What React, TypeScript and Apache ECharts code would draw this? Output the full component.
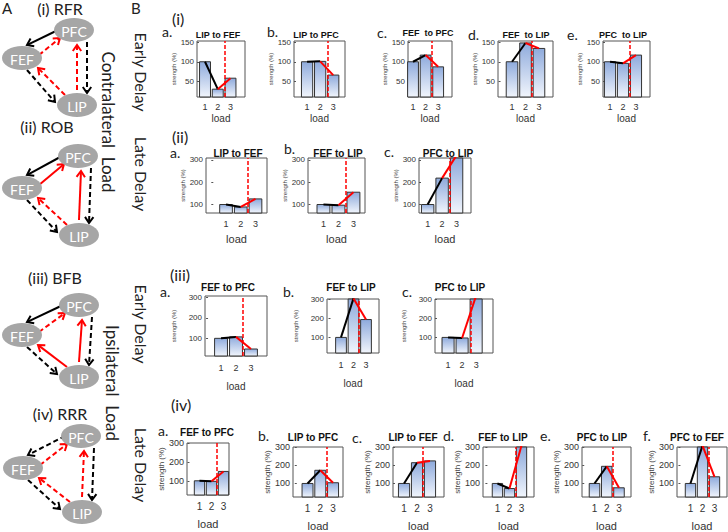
import React, { useEffect, useRef } from "react";
import * as echarts from "echarts";

// ---------- DATA ----------
const loads = [1, 2, 3];

// B (i) contralateral load, early delay
const earlyContraLIPtoFEF = [100, 30, 58];
const earlyContraLIPtoPFC = [100, 101, 66];
const earlyContraFEFtoPFC = [100, 117, 87];
const earlyContraFEFtoLIP = [100, 148, 134];
const earlyContraPFCtoLIP = [100, 96, 117];
// B (ii) contralateral load, late delay
const lateContraLIPtoFEF = [100, 89, 125];
const lateContraFEFtoLIP = [100, 97, 155];
const lateContraPFCtoLIP = [100, 218, 320];
// B (iii) ipsilateral load, early delay
const earlyIpsiFEFtoPFC = [100, 107, 48];
const earlyIpsiFEFtoLIP = [100, 305, 194];
const earlyIpsiPFCtoLIP = [100, 97, 320];
// B (iv) ipsilateral load, late delay
const lateIpsiFEFtoPFC = [100, 97, 150];
const lateIpsiLIPtoPFC = [100, 173, 104];
const lateIpsiLIPtoFEF = [100, 215, 225];
const lateIpsiFEFtoLIP = [100, 72, 310];
const lateIpsiPFCtoLIP = [100, 195, 76];
const lateIpsiPFCtoFEF = [100, 310, 137];

const ticksSmall = [50, 100, 150];
const ticksLarge = [100, 200, 300];

// ---------- LAYOUT ----------
const FONT = "'Liberation Sans', Arial, sans-serif";
const FONT_A = "Lato, 'Open Sans', sans-serif";

const rowStyles = [
  { titleY: 35, titleFs: 9, xTickFs: 9, yTickFs: 8, xMargin: 5, nameGap: 16, loadFs: 10, yNameGap: 19, yNameFs: 6 },
  { titleY: 153, titleFs: 10, xTickFs: 9, yTickFs: 8, xMargin: 6, nameGap: 20, loadFs: 11, yNameGap: 19, yNameFs: 6 },
  { titleY: 287, titleFs: 10, xTickFs: 9, yTickFs: 8, xMargin: 7, nameGap: 25, loadFs: 10, yNameGap: 28, yNameFs: 6 },
  { titleY: 437, titleFs: 10, xTickFs: 10, yTickFs: 9, xMargin: 6, nameGap: 23, loadFs: 11, yNameGap: 22, yNameFs: 8 },
];

const panels = [
  { row: 0, title: "LIP to FEF", letter: "a.", values: earlyContraLIPtoFEF, ticks: ticksSmall, box: [197, 41, 48, 56], xr: [0.37, 4.14], yr: [10, 153], dash: 2.57, tx: 218, lp: [162, 31] },
  { row: 0, title: "LIP to PFC", letter: "b.", values: earlyContraLIPtoPFC, ticks: ticksSmall, box: [294, 41, 51, 56], xr: [0.0, 3.9], yr: [10, 153], dash: 2.6, tx: 316, lp: [267, 31] },
  { row: 0, title: "FEF  to PFC", letter: "c.", values: earlyContraFEFtoPFC, ticks: ticksSmall, box: [408, 41, 44, 56], xr: [0.6, 4.1], yr: [10, 153], dash: 2.45, tx: 428, ty: 33, lp: [377, 32] },
  { row: 0, title: "FEF  to LIP", letter: "d.", values: earlyContraFEFtoLIP, ticks: ticksSmall, box: [498, 41, 55, 56], xr: [-0.04, 4.04], yr: [10, 153], dash: 2.5, tx: 526, lp: [468, 34] },
  { row: 0, title: "PFC  to LIP", letter: "e.", values: earlyContraPFCtoLIP, ticks: ticksSmall, box: [603, 41, 47, 56], xr: [0.46, 4.08], yr: [10, 153], dash: 2.5, tx: 623, lp: [567, 34] },

  { row: 1, title: "LIP to FEF", letter: "a.", values: lateContraLIPtoFEF, ticks: ticksLarge, box: [206, 158, 61, 55], xr: [-0.36, 3.78], yr: [62, 308], dash: 2.45, tx: 238, lp: [170, 152] },
  { row: 1, title: "FEF to LIP", letter: "b.", values: lateContraFEFtoLIP, ticks: ticksLarge, box: [308, 158, 57, 55], xr: [-0.03, 3.77], yr: [62, 308], dash: 2.5, tx: 338, lp: [284, 148] },
  { row: 1, title: "PFC to LIP", letter: "c.", values: lateContraPFCtoLIP, ticks: ticksLarge, box: [419, 158, 52, 55], xr: [0.4, 4.0], yr: [62, 308], dash: 2.5, tx: 448, lp: [384, 151] },

  { row: 2, title: "FEF to PFC", letter: "a.", values: earlyIpsiFEFtoPFC, ticks: ticksLarge, box: [205, 296, 62, 60], xr: [-0.07, 4.07], yr: [14, 306], dash: 2.45, tx: 228, lp: [160, 291] },
  { row: 2, title: "FEF to LIP", letter: "b.", values: earlyIpsiFEFtoLIP, ticks: ticksLarge, box: [327, 299, 52, 54], xr: [-0.12, 4.04], yr: [18, 302], dash: 2.4, tx: 351, lp: [283, 291] },
  { row: 2, title: "PFC to LIP", letter: "c.", values: earlyIpsiPFCtoLIP, ticks: ticksLarge, box: [435, 299, 58, 54], xr: [0.07, 4.2], yr: [18, 302], dash: 2.6, tx: 460, lp: [402, 291] },

  { row: 3, title: "FEF to PFC", letter: "a.", values: lateIpsiFEFtoPFC, ticks: ticksLarge, box: [187, 443, 42, 52], xr: [-0.04, 3.46], yr: [24, 302], dash: 2.4, tx: 207, ty: 432, lp: [158, 430] },
  { row: 3, title: "LIP to PFC", letter: "b.", values: lateIpsiLIPtoPFC, ticks: ticksLarge, box: [293, 447, 50, 50], xr: [-0.14, 3.78], yr: [25, 302], dash: 2.5, tx: 313, lp: [258, 435] },
  { row: 3, title: "LIP to FEF", letter: "c.", values: lateIpsiLIPtoFEF, ticks: ticksLarge, box: [393, 447, 51, 50], xr: [0.15, 4.08], yr: [25, 302], dash: 2.45, tx: 413, lp: [352, 437] },
  { row: 3, title: "FEF to LIP", letter: "d.", values: lateIpsiFEFtoLIP, ticks: ticksLarge, box: [483, 447, 51, 50], xr: [-0.2, 4.04], yr: [25, 302], dash: 2.5, tx: 503, lp: [443, 435] },
  { row: 3, title: "PFC to LIP", letter: "e.", values: lateIpsiPFCtoLIP, ticks: ticksLarge, box: [582, 447, 49, 50], xr: [-0.02, 3.98], yr: [25, 302], dash: 2.45, tx: 602, lp: [540, 435] },
  { row: 3, title: "PFC to FEF", letter: "f.", values: lateIpsiPFCtoFEF, ticks: ticksLarge, box: [677, 447, 50, 50], xr: [-0.12, 4.04], yr: [25, 302], dash: 2.5, tx: 697, lp: [643, 435] },
];

// Panel A network diagrams
const diagrams = [
  { label: "(i) RFR", lx: 60, ly: 8, nodes: { PFC: [74, 30], FEF: [22, 58], LIP: [77, 105] }, styles: ["k-", "r--", "k--", "r--", "k--", "r--"] },
  { label: "(ii) ROB", lx: 47, ly: 126, nodes: { PFC: [78, 156], FEF: [22, 188], LIP: [79, 235] }, styles: ["k-", "r-", "k--", "r-", "k--", "r--"] },
  { label: "(iii) BFB", lx: 55, ly: 277, nodes: { PFC: [79, 305], FEF: [22, 335], LIP: [79, 377] }, styles: ["k-", "r--", "k--", "r-", "k--", "r-"] },
  { label: "(iv) RRR", lx: 60, ly: 413, nodes: { PFC: [81, 436], FEF: [23, 468], LIP: [82, 512] }, styles: ["k--", "r--", "k--", "r--", "k--", "r--"] },
];
const arrowGeom = [
  { from: "PFC", fo: [-16, 0], to: "FEF", tof: [5, -13] },
  { from: "FEF", fo: [17, -3], to: "PFC", tof: [-14, 8] },
  { from: "PFC", fo: [13, 12], to: "LIP", tof: [10, -12] },
  { from: "LIP", fo: [0, -15], to: "PFC", tof: [3, 15] },
  { from: "FEF", fo: [5, 12], to: "LIP", tof: [-22, -3] },
  { from: "LIP", fo: [-12, -10], to: "FEF", tof: [16, 10] },
];

function arrowEls(s: number[], e: number[], color: string, dashed: boolean) {
  const dx = e[0] - s[0];
  const dy = e[1] - s[1];
  const len = Math.hypot(dx, dy);
  const ux = dx / len, uy = dy / len;
  const nx = -uy, ny = ux;
  const L = 6, W = 4.2;
  const lineStyle: any = { stroke: color, lineWidth: 2 };
  if (dashed) lineStyle.lineDash = [5, 3];
  return [
    { type: "line", shape: { x1: s[0], y1: s[1], x2: e[0] - ux, y2: e[1] - uy }, style: lineStyle, z: 5 },
    {
      type: "polyline",
      shape: { points: [[e[0] - ux * L + nx * W, e[1] - uy * L + ny * W], [e[0], e[1]], [e[0] - ux * L - nx * W, e[1] - uy * L - ny * W]] },
      style: { stroke: color, lineWidth: 2, fill: "none" },
      z: 5,
    },
  ];
}

function text(x: number, y: number, t: string, fs: number, opts: any = {}) {
  return {
    type: "text",
    x,
    y,
    rotation: opts.rotation || 0,
    z: 10,
    style: {
      text: t,
      fontSize: fs,
      fontFamily: opts.font || FONT_A,
      fontWeight: opts.weight || "normal",
      fill: opts.color || "#222",
      align: opts.align || "center",
      verticalAlign: "middle",
    },
  };
}

function buildOption() {
  const grid: any[] = [];
  const xAxis: any[] = [];
  const yAxis: any[] = [];
  const series: any[] = [];
  const graphic: any[] = [];

  panels.forEach((p: any, i) => {
    const rs = rowStyles[p.row];
    const [l, t, w, h] = p.box;
    const s = w / (p.xr[1] - p.xr[0]);
    const bw = s * 0.86;
    const ymin = p.yr[0], ymax = p.yr[1];
    grid.push({ left: l, top: t, width: w, height: h, show: true, borderColor: "#555", borderWidth: 1, backgroundColor: "#fff" });
    xAxis.push({
      type: "value", gridIndex: i, min: p.xr[0], max: p.xr[1],
      axisLine: { show: false }, splitLine: { show: false },
      axisTick: { show: true, inside: true, length: 2, customValues: loads, lineStyle: { color: "#555" } },
      axisLabel: { customValues: loads, fontSize: rs.xTickFs, color: "#333", margin: rs.xMargin, fontFamily: FONT },
      name: "load", nameLocation: "middle", nameGap: rs.nameGap,
      nameTextStyle: { fontSize: rs.loadFs, color: "#333", fontFamily: FONT },
    });
    yAxis.push({
      type: "value", gridIndex: i, min: ymin, max: ymax,
      axisLine: { show: false }, splitLine: { show: false },
      axisTick: { show: true, inside: true, length: 2, customValues: p.ticks, lineStyle: { color: "#555" } },
      axisLabel: { customValues: p.ticks, fontSize: rs.yTickFs, color: "#333", margin: 3, fontFamily: FONT },
      name: "strength (%)", nameLocation: "middle", nameGap: rs.yNameGap, nameRotate: 90,
      nameTextStyle: { fontSize: rs.yNameFs, color: "#444", fontFamily: FONT },
    });
    series.push({
      type: "custom", xAxisIndex: i, yAxisIndex: i, silent: true, z: 2,
      data: loads.map((x, k) => [x, p.values[k]]),
      encode: { x: 0, y: 1 },
      renderItem: (params: any, api: any) => {
        const x = api.value(0);
        const v = api.value(1);
        const top = api.coord([x, Math.min(v, ymax)]);
        const bot = api.coord([x, ymin]);
        return {
          type: "rect",
          shape: { x: top[0] - bw / 2, y: top[1], width: bw, height: bot[1] - top[1] },
          style: {
            fill: new echarts.graphic.LinearGradient(0, 0, 0, 1, [
              { offset: 0, color: "#8eaadc" },
              { offset: 1, color: "#f1f5fc" },
            ]),
            stroke: "#333",
            lineWidth: 1,
          },
        };
      },
    });
    series.push({
      type: "line", xAxisIndex: i, yAxisIndex: i, silent: true, z: 4, symbol: "none",
      data: [[loads[0], p.values[0]], [loads[1], p.values[1]]],
      lineStyle: { color: "#000", width: 2 },
    });
    series.push({
      type: "line", xAxisIndex: i, yAxisIndex: i, silent: true, z: 5, symbol: "none",
      data: [[loads[1], p.values[1]], [loads[2], p.values[2]]],
      lineStyle: { color: "#ff0000", width: 2 },
      markLine: {
        silent: true, symbol: ["none", "none"], label: { show: false },
        lineStyle: { color: "#ff0000", type: [4, 2], width: 1.5 },
        data: [{ xAxis: p.dash }],
      },
    });
    graphic.push(text(p.tx, p.ty ?? rs.titleY, p.title, rs.titleFs, { font: FONT, weight: "bold", color: "#111" }));
    graphic.push(text(p.lp[0], p.lp[1], p.letter, 14, { align: "left", color: "#222" }));
  });

  // Panel A
  graphic.push(text(2, 8, "A", 15, { align: "left" }));
  diagrams.forEach((d) => {
    graphic.push(text(d.lx, d.ly, d.label, 16, { color: "#222" }));
    arrowGeom.forEach((g, k) => {
      const st = d.styles[k];
      const a = (d.nodes as any)[g.from];
      const b = (d.nodes as any)[g.to];
      const s = [a[0] + g.fo[0], a[1] + g.fo[1]];
      const e = [b[0] + g.tof[0], b[1] + g.tof[1]];
      arrowEls(s, e, st[0] === "r" ? "#ff0000" : "#000", st.indexOf("--") >= 0).forEach((el) => graphic.push(el));
    });
    Object.keys(d.nodes).forEach((name) => {
      const c = (d.nodes as any)[name];
      graphic.push({ type: "ellipse", shape: { cx: c[0], cy: c[1], rx: 20, ry: 12 }, style: { fill: "#a6a6a6" }, z: 6 });
      graphic.push({ ...text(c[0], c[1] + 1, name, 14, { color: "#fff" }), z: 7 });
    });
  });
  graphic.push(text(108, 122, "Contralateral  Load", 17, { rotation: -Math.PI / 2, color: "#222" }));
  graphic.push(text(112, 383, "Ipsilateral  Load", 17, { rotation: -Math.PI / 2, color: "#222" }));

  // Panel B labels
  graphic.push(text(131, 8, "B", 15, { align: "left" }));
  graphic.push(text(141, 72, "Early Delay", 16, { rotation: -Math.PI / 2 }));
  graphic.push(text(141, 174, "Late Delay", 16, { rotation: -Math.PI / 2 }));
  graphic.push(text(141, 324, "Early Delay", 16, { rotation: -Math.PI / 2 }));
  graphic.push(text(141, 465, "Late Delay", 16, { rotation: -Math.PI / 2 }));
  graphic.push(text(172, 18, "(i)", 16, { align: "left" }));
  graphic.push(text(172, 136, "(ii)", 16, { align: "left" }));
  graphic.push(text(170, 274, "(iii)", 16, { align: "left" }));
  graphic.push(text(171, 404, "(iv)", 16, { align: "left" }));

  return {
    animation: false,
    backgroundColor: "#fff",
    grid,
    xAxis,
    yAxis,
    series,
    graphic: { elements: graphic },
  };
}

export default function App() {
  const ref = useRef<HTMLDivElement>(null);
  useEffect(() => {
    const chart = echarts.init(ref.current!, null, { renderer: "svg" });
    chart.setOption(buildOption() as any);
    return () => chart.dispose();
  }, []);
  return (
    <div
      ref={ref}
      style={{ position: "absolute", left: 0, top: 0, width: 728, height: 532, background: "#fff" }}
    />
  );
}
